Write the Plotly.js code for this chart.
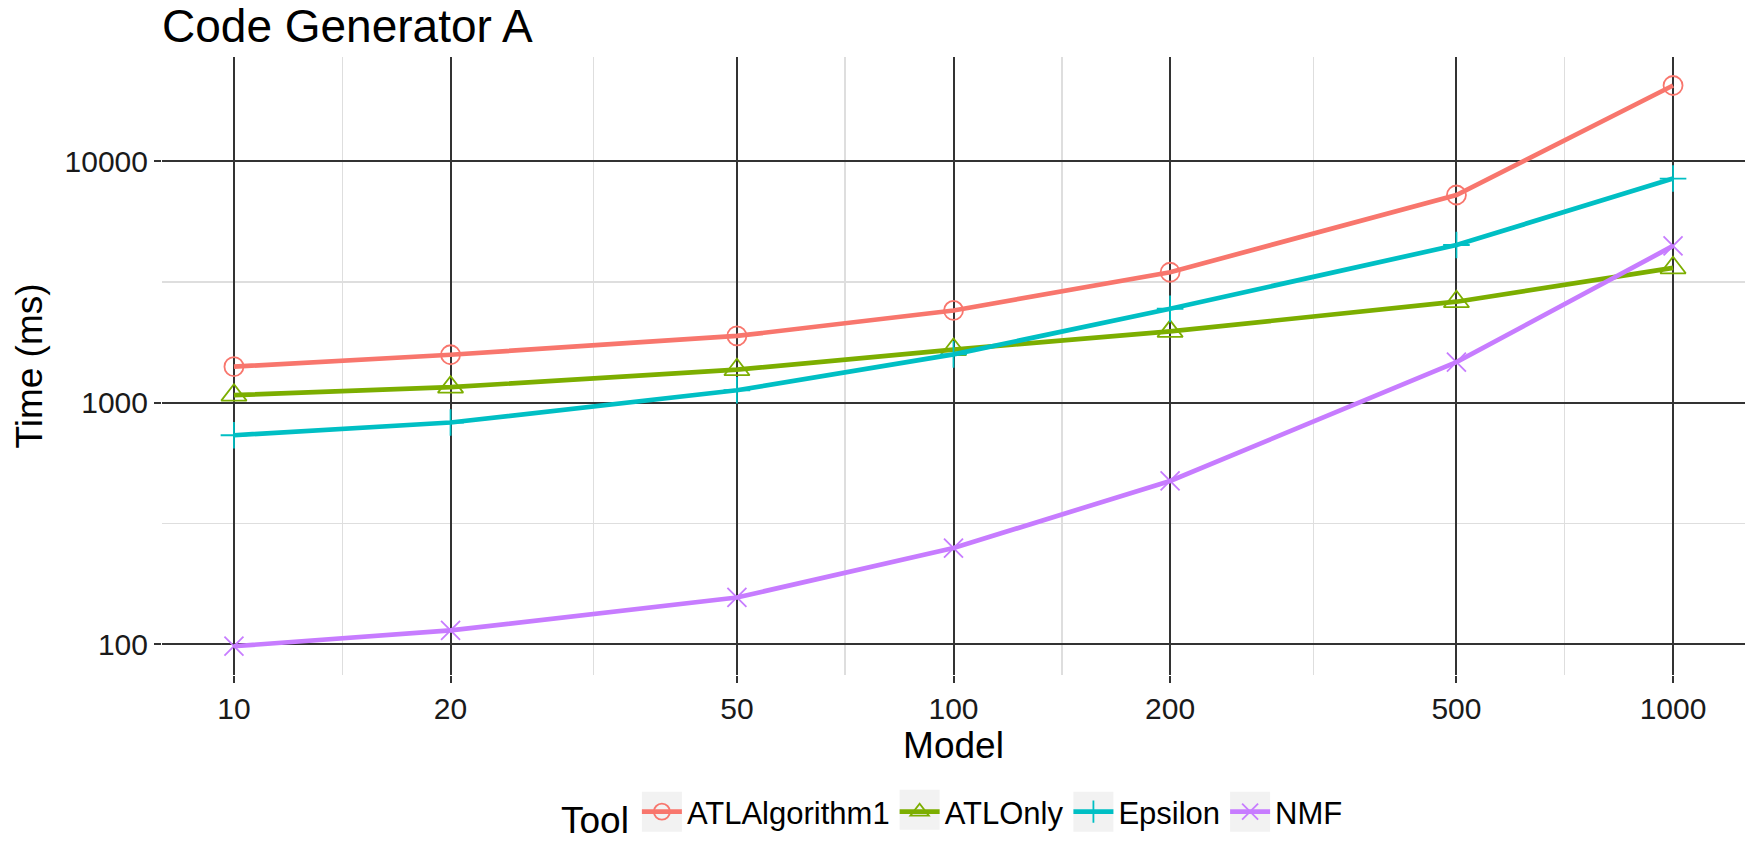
<!DOCTYPE html>
<html>
<head>
<meta charset="utf-8">
<script src="https://cdn.plot.ly/plotly-3.0.1.min.js"></script>
<style>
  html, body { margin: 0; padding: 0; background: #ffffff; }
  #chart { width: 1745px; height: 844px; }
</style>
</head>
<body>
<div id="chart"></div>
<script>
// ---- data ----
const models = [10, 20, 50, 100, 200, 500, 1000];
const toolNames = ["ATLAlgorithm1", "ATLOnly", "Epsilon", "NMF"];
const atlAlgorithm1 = [1410, 1580, 1890, 2410, 3470, 7250, 20600];
const atlOnly = [1075, 1160, 1370, 1660, 1975, 2620, 3620];
const epsilon = [733, 828, 1126, 1585, 2450, 4500, 8480];
const nmf = [98, 114, 156, 250, 474, 1472, 4460];
const xTickVals = [10, 20, 50, 100, 200, 500, 1000];
const xTickText = ["10", "20", "50", "100", "200", "500", "1000"];
const yTickVals = [100, 1000, 10000];
const yTickText = ["100", "1000", "10000"];

// minor breaks at midpoints (in log space) between major breaks
function midpoints(vals) {
  const out = [];
  for (let i = 0; i < vals.length - 1; i++) out.push(Math.sqrt(vals[i] * vals[i + 1]));
  return out;
}
const yMinor = midpoints([10, 100, 1000, 10000, 100000]);
const xMinor = midpoints(xTickVals);

const series = [atlAlgorithm1, atlOnly, epsilon, nmf];
const colors = ["#F8766D", "#7CAE00", "#00BFC4", "#C77CFF"];
const symbols = ["circle-open", "triangle-up-open", "cross-thin-open", "x-thin-open"];
const sizes = [19, 22, 19, 19];

const FONT = "'Liberation Sans', Arial, Helvetica, sans-serif";

const traces = series.map((ys, i) => ({
  type: "scatter",
  mode: "lines+markers",
  name: toolNames[i],
  x: models,
  y: ys,
  line: { color: colors[i], width: 4.7 },
  marker: {
    symbol: symbols[i],
    size: sizes[i],
    color: colors[i],
    line: { color: colors[i], width: 1.8 }
  }
}));

const layout = {
  width: 1745,
  height: 844,
  paper_bgcolor: "#ffffff",
  plot_bgcolor: "#ffffff",
  margin: { l: 162, r: 0, t: 57, b: 159 },
  font: { family: FONT, color: "#000000" },
  title: {
    text: "Code Generator A",
    font: { family: FONT, size: 46, color: "#000000" },
    xref: "paper", x: 0, xanchor: "left",
    yref: "container", y: 1 - 26 / 844, yanchor: "middle"
  },
  xaxis: {
    type: "log",
    range: [0.9, 3.1],
    tickmode: "array",
    tickvals: xTickVals,
    ticktext: xTickText,
    ticks: "outside",
    ticklen: 7,
    tickwidth: 2,
    tickcolor: "#333333",
    tickfont: { family: FONT, size: 30, color: "#1a1a1a" },
    showgrid: true,
    gridcolor: "#333333",
    gridwidth: 2,
    zeroline: false,
    showline: false,
    minor: {
      tickmode: "array",
      tickvals: xMinor,
      ticks: "",
      showgrid: true,
      gridcolor: "#dedede",
      gridwidth: 1.5
    },
    title: { text: "Model", font: { family: FONT, size: 37, color: "#000000" }, standoff: 8 }
  },
  yaxis: {
    type: "log",
    range: [1.872, 4.432],
    tickmode: "array",
    tickvals: yTickVals,
    ticktext: yTickText,
    ticks: "outside",
    ticklen: 7,
    tickwidth: 2,
    tickcolor: "#333333",
    tickfont: { family: FONT, size: 30, color: "#1a1a1a" },
    showgrid: true,
    gridcolor: "#333333",
    gridwidth: 2,
    zeroline: false,
    showline: false,
    minor: {
      tickmode: "array",
      tickvals: yMinor,
      ticks: "",
      showgrid: true,
      gridcolor: "#dedede",
      gridwidth: 1.5
    },
    title: { text: "Time (ms)", font: { family: FONT, size: 37, color: "#000000" }, standoff: 10 }
  },
  showlegend: true,
  legend: {
    orientation: "h",
    x: 0.5, xanchor: "center",
    y: -0.226, yanchor: "middle",
    font: { family: FONT, size: 31, color: "#000000" },
    title: { text: "Tool", font: { family: FONT, size: 37, color: "#000000" }, side: "left" },
    bgcolor: "rgba(0,0,0,0)",
    itemwidth: 40
  }
};

const gd = document.getElementById("chart");
Plotly.newPlot(gd, traces, layout, { displayModeBar: false, staticPlot: true }).then(() => {
  // light grey key backgrounds behind each legend symbol (ggplot style)
  const sz = gd._fullLayout._size;
  const base = gd.getBoundingClientRect();
  const shapes = [];
  gd.querySelectorAll(".legend .traces .legendpoints").forEach((lp) => {
    const r = lp.getBoundingClientRect();
    const cx = (r.left + r.right) / 2 - base.left;
    const cy = (r.top + r.bottom) / 2 - base.top;
    const half = 20;
    shapes.push({
      type: "rect", xref: "paper", yref: "paper", layer: "below",
      x0: (cx - half - sz.l) / sz.w, x1: (cx + half - sz.l) / sz.w,
      y0: (sz.t + sz.h - (cy + half)) / sz.h, y1: (sz.t + sz.h - (cy - half)) / sz.h,
      fillcolor: "#f2f2f2", line: { width: 0 }
    });
  });
  return Plotly.relayout(gd, { shapes: shapes });
});
</script>
</body>
</html>
